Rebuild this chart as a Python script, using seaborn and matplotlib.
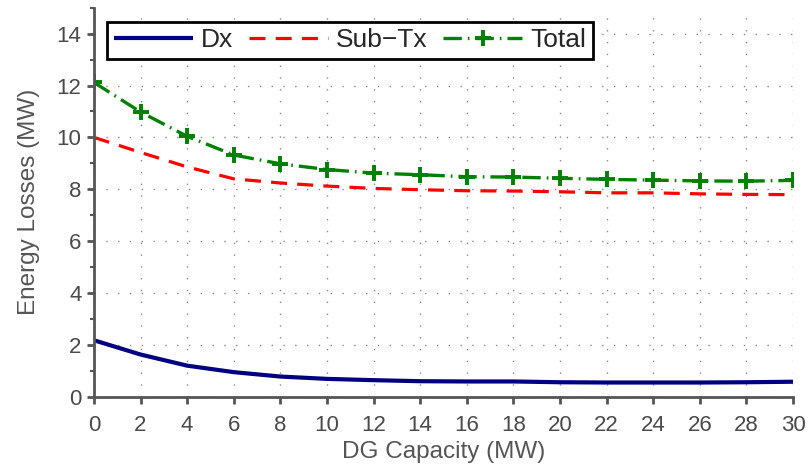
"""Energy losses vs DG capacity."""

import matplotlib

matplotlib.use("Agg")
import matplotlib.pyplot as plt
import numpy as np
import pandas as pd
import seaborn as sns
from matplotlib.ticker import MultipleLocator

# Data
dg_capacity = [0, 2, 4, 6, 8, 10, 12, 14, 16, 18, 20, 22, 24, 26, 28, 30]
dx_losses = [2.17, 1.62, 1.19, 0.94, 0.77, 0.68, 0.63, 0.59, 0.58, 0.58,
             0.55, 0.54, 0.54, 0.54, 0.55, 0.57]
subtx_losses = [10.0, 9.42, 8.86, 8.40, 8.24, 8.12, 8.03, 7.98, 7.94, 7.93,
                7.90, 7.86, 7.86, 7.82, 7.80, 7.79]
total_losses = [12.12, 10.98, 10.04, 9.32, 8.98, 8.76, 8.62, 8.56, 8.48, 8.47,
                8.42, 8.38, 8.35, 8.32, 8.31, 8.34]

series_labels = ["Dx", "Sub\u2212Tx", "Total"]
x_ticks = np.arange(0, 31, 2)
y_ticks = np.arange(0, 15, 2)

df = pd.DataFrame(
    {
        "x": dg_capacity,
        "Dx": dx_losses,
        "SubTx": subtx_losses,
        "Total": total_losses,
    }
)

# Style
sns.set_style("ticks")
plt.rcParams["font.family"] = ["Liberation Sans", "DejaVu Sans"]
axis_grey = "#555555"

fig = plt.figure(figsize=(8.1, 4.74), dpi=100)
ax = fig.add_axes([0.116, 0.1635, 0.863, 0.82])

sns.lineplot(data=df, x="x", y="Dx", ax=ax, color="#000080", lw=3.0,
             label=series_labels[0], solid_capstyle="butt")
sns.lineplot(data=df, x="x", y="SubTx", ax=ax, color="#ff0000", lw=2.3,
             linestyle=(0, (5.0, 3.2)), label=series_labels[1])
sns.lineplot(data=df, x="x", y="Total", ax=ax, color="#008000", lw=2.4,
             linestyle=(0, (5.5, 1.8, 0.5, 1.8)), label=series_labels[2])

# seaborn drops the marker for a single unstyled line, so put it back
total_line = ax.lines[-1]
total_line.set_marker("+")
total_line.set_markersize(12)
total_line.set_markeredgewidth(2.8)
total_line.set_markeredgecolor("#008000")

ax.set_xlim(0, 30)
ax.set_ylim(0, 15)
ax.set_xticks(x_ticks)
ax.set_yticks(y_ticks)
ax.yaxis.set_minor_locator(MultipleLocator(1))

ax.grid(True, which="major", color="#888888", linestyle=(0, (1, 7.5)), lw=1.0)

for side in ["top", "right"]:
    ax.spines[side].set_visible(False)
for side in ["left", "bottom"]:
    ax.spines[side].set_color(axis_grey)
    ax.spines[side].set_linewidth(2.0)

ax.tick_params(axis="both", which="major", direction="out", length=5, width=2,
               color=axis_grey, labelcolor="#4a4a4a", labelsize=16)
ax.tick_params(axis="x", which="major", pad=8)
ax.tick_params(axis="y", which="major", pad=4)
ax.tick_params(axis="y", which="minor", direction="out", length=3, width=1.5,
               color=axis_grey)

ax.set_xlabel("DG Capacity (MW)", fontsize=17.5, color="#555555", labelpad=4)
ax.set_ylabel("Energy Losses (MW)", fontsize=17.5, color="#555555", labelpad=12)

leg = ax.legend(
    loc="upper left",
    bbox_to_anchor=(0.0186, 0.964),
    borderaxespad=0,
    ncol=3,
    fontsize=19,
    handlelength=3.0,
    handletextpad=0.3,
    columnspacing=0.6,
    borderpad=0.25,
    fancybox=False,
    framealpha=1,
    edgecolor="black",
)
leg.get_frame().set_linewidth(2.0)

fig.savefig("out.png", dpi=100)
